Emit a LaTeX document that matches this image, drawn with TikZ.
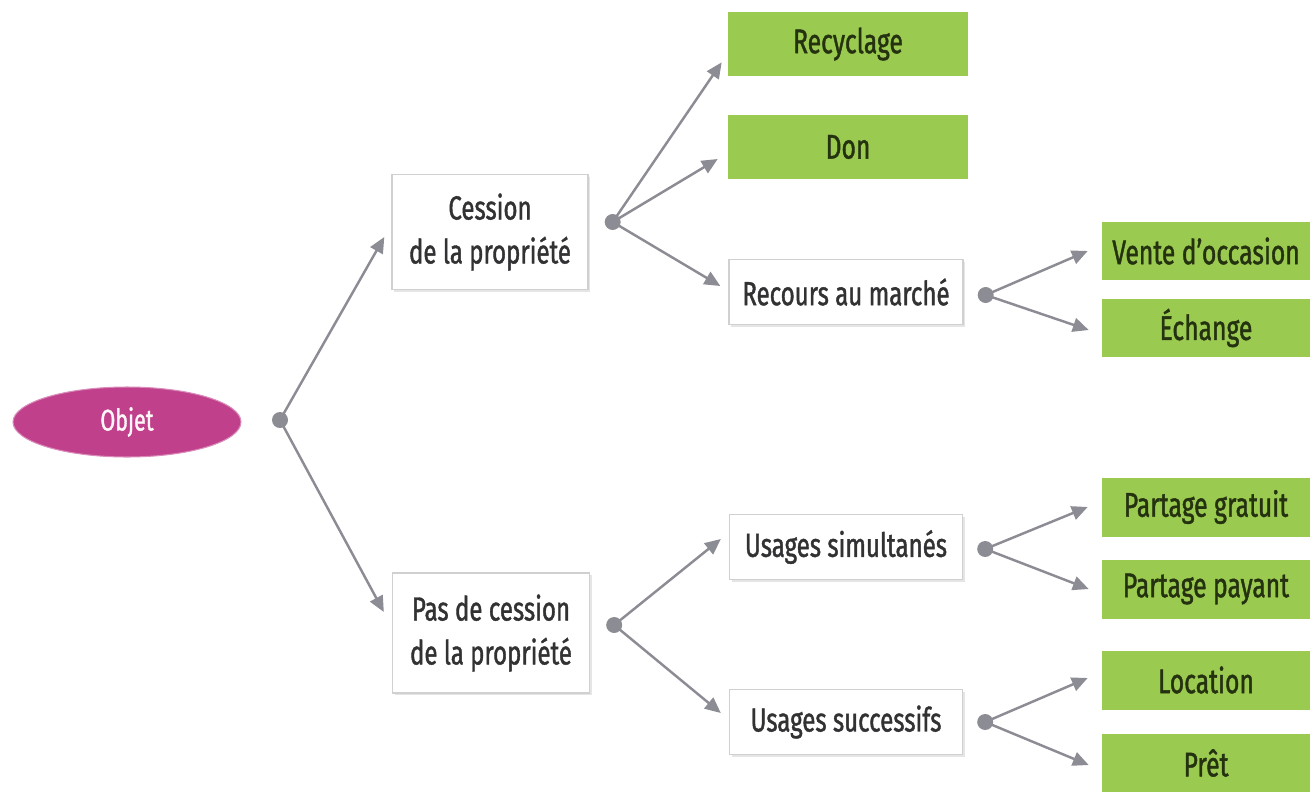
\documentclass[tikz,border=0pt]{standalone}
\usepackage{fontspec}
\setmainfont{Fira Sans}[FakeStretch=0.72, FakeBold=1.2]
\usetikzlibrary{arrows.meta,shadows,calc,shapes.geometric}
\definecolor{leaf}{RGB}{155,202,80}
\definecolor{leaftext}{RGB}{36,50,16}
\definecolor{plum}{RGB}{192,64,140}
\definecolor{ink}{RGB}{50,50,52}
\definecolor{wire}{RGB}{140,140,148}
\definecolor{rim}{RGB}{208,208,208}
\tikzset{
  whitebox/.style={draw=rim, line width=0.8pt, fill=white, inner sep=0pt, align=center,
    text=ink, font=\fontsize{19}{25}\selectfont,
    drop shadow={shadow xshift=1.2pt, shadow yshift=-1.2pt, opacity=0.25, fill=black!40}},
  greenbox/.style={fill=leaf, inner sep=0pt, align=center, text=leaftext,
    font=\fontsize{19.5}{21}\selectfont},
  rootnode/.style={ellipse, fill=plum, draw=plum!60, line width=0.6pt, inner sep=0pt,
    text=white!88!pink, font=\fontsize{17}{19}\selectfont,
    minimum width=4.56cm, minimum height=1.40cm},
  hub/.style={circle, fill=wire, inner sep=0pt, minimum size=0.32cm},
  link/.style={draw=wire, line width=1.4pt, -{Triangle[length=9pt,width=8pt]}}
}
\begin{document}
\begin{tikzpicture}[x=0.02cm, y=-0.02cm]
\useasboundingbox (0,0) rectangle (1310,791);
% nodes
\node[rootnode] (objet) at (127,422) {Objet};
\node[whitebox, minimum width=3.92cm, minimum height=2.30cm] (cession) at (490,232) {Cession\\de la propriété};
\node[whitebox, minimum width=3.94cm, minimum height=2.40cm] (pas) at (491,633) {Pas de cession\\de la propriété};
\node[greenbox, minimum width=4.8cm, minimum height=1.28cm] (recyclage) at (848,44) {Recyclage};
\node[greenbox, minimum width=4.8cm, minimum height=1.28cm] (don) at (848,147) {Don};
\node[whitebox, minimum width=4.68cm, minimum height=1.30cm] (recours) at (846,292) {Recours au marché};
\node[whitebox, minimum width=4.66cm, minimum height=1.30cm] (simul) at (846,547) {Usages simultanés};
\node[whitebox, minimum width=4.66cm, minimum height=1.30cm] (succ) at (846,722) {Usages successifs};
\node[greenbox, minimum width=4.16cm, minimum height=1.16cm] (vente) at (1206,251) {Vente d’occasion};
\node[greenbox, minimum width=4.16cm, minimum height=1.16cm] (echange) at (1206,328) {Échange};
\node[greenbox, minimum width=4.16cm, minimum height=1.18cm] (gratuit) at (1206,507) {Partage gratuit};
\node[greenbox, minimum width=4.16cm, minimum height=1.18cm] (payant) at (1206,589) {Partage payant};
\node[greenbox, minimum width=4.16cm, minimum height=1.18cm] (location) at (1206,680) {Location};
\node[greenbox, minimum width=4.16cm, minimum height=1.16cm] (pret) at (1206,763) {Prêt};
% hubs
\node[hub] (h0) at (280,420) {};
\node[hub] (h1) at ($(cession.east)+(24,-10)$) {};
\node[hub] (h2) at ($(pas.east)+(24,-8)$) {};
\node[hub] (h3) at ($(recours.east)+(22,3)$) {};
\node[hub] (h4) at ($(simul.east)+(22,2)$) {};
\node[hub] (h5) at ($(succ.east)+(22,0)$) {};
% connectors
\draw[link] (h0.center) -- ($(cession.west)+(-7,5)$);
\draw[link] (h0.center) -- ($(pas.west)+(-8,-21)$);
\draw[link] (h1.center) -- ($(recyclage.south west)+(-6,-14)$);
\draw[link] (h1.center) -- ($(don.west)+(-10,12)$);
\draw[link] (h1.center) -- ($(recours.west)+(-8,-6)$);
\draw[link] (h2.center) -- ($(simul.west)+(-8,-8)$);
\draw[link] (h2.center) -- ($(succ.west)+(-8,-9)$);
\draw[link] (h3.center) -- ($(vente.west)+(-14,0)$);
\draw[link] (h3.center) -- ($(echange.west)+(-13,2)$);
\draw[link] (h4.center) -- ($(gratuit.west)+(-14,0)$);
\draw[link] (h4.center) -- ($(payant.west)+(-13,0)$);
\draw[link] (h5.center) -- ($(location.west)+(-14,-2)$);
\draw[link] (h5.center) -- ($(pret.west)+(-13,2)$);
\end{tikzpicture}
\end{document}
